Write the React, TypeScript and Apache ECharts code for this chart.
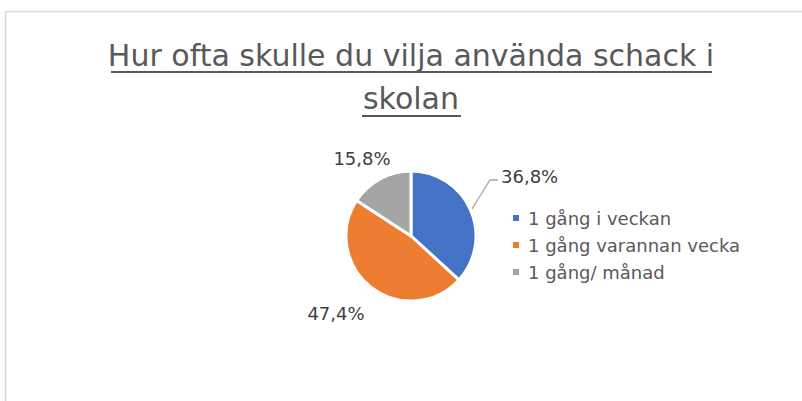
import React, { useEffect, useRef } from "react";
import * as echarts from "echarts";

const titleLines = ["Hur ofta skulle du vilja använda schack i", "skolan"];
const categories = ["1 gång i veckan", "1 gång varannan vecka", "1 gång/ månad"];
const values = [36.8, 47.4, 15.8];
const labelTexts = ["36,8%", "47,4%", "15,8%"];
const colors = ["#4472C4", "#ED7D31", "#A5A5A5"];

const FONT = "DejaVu Sans";

export default function App() {
  const ref = useRef<HTMLDivElement>(null);
  useEffect(() => {
    if (!ref.current) return;
    const chart = echarts.init(ref.current, undefined, { renderer: "svg" });
    const labelPos = [
      { x: 501, y: 176, align: "left" },
      { x: 336, y: 313, align: "center" },
      { x: 362, y: 158, align: "center" },
    ];
    chart.setOption({
      animation: false,
      backgroundColor: "#ffffff",
      title: {
        text: titleLines.join("\n"),
        left: 411,
        top: 34,
        textAlign: "center",
        padding: 0,
        textStyle: {
          fontFamily: FONT,
          fontSize: 30,
          fontWeight: "normal",
          color: "#595959",
          lineHeight: 43,
        },
      },
      legend: {
        orient: "vertical",
        left: 506,
        top: 203,
        itemWidth: 8,
        itemHeight: 8,
        itemGap: 7,
        icon: "rect",
        data: categories,
        textStyle: {
          fontFamily: FONT,
          fontSize: 18,
          color: "#595959",
          lineHeight: 20,
          padding: [0, 0, 0, 3],
        },
      },
      graphic: [
        {
          type: "rect",
          shape: { x: 5.5, y: 11.5, width: 1000, height: 1000 },
          style: { fill: "none", stroke: "#d9d9d9", lineWidth: 1.5 },
          silent: true,
        },
        {
          type: "line",
          shape: { x1: 111, y1: 72, x2: 712, y2: 72 },
          style: { stroke: "#595959", lineWidth: 2 },
          silent: true,
        },
        {
          type: "line",
          shape: { x1: 362, y1: 116, x2: 461, y2: 116 },
          style: { stroke: "#595959", lineWidth: 2 },
          silent: true,
        },
      ],
      series: [
        {
          type: "pie",
          center: [411, 236],
          radius: 65,
          startAngle: 90,
          clockwise: true,
          avoidLabelOverlap: false,
          itemStyle: { borderColor: "#ffffff", borderWidth: 3 },
          label: {
            show: true,
            position: "outside",
            fontFamily: FONT,
            fontSize: 18,
            color: "#404040",
            formatter: (p: any) => labelTexts[p.dataIndex],
          },
          labelLine: { show: true, lineStyle: { color: "#a6a6a6", width: 1.3 } },
          labelLayout: (p: any) => {
            const lp = labelPos[p.dataIndex];
            const out: any = { x: lp.x, y: lp.y, align: lp.align, verticalAlign: "middle" };
            if (p.dataIndex === 0) {
              out.labelLinePoints = [
                [472, 209],
                [490, 180],
                [498, 180],
              ];
            } else {
              out.labelLinePoints = [
                [0, 0],
                [0, 0],
                [0, 0],
              ];
            }
            return out;
          },
          data: categories.map((name, i) => ({
            name,
            value: values[i],
            itemStyle: { color: colors[i] },
            labelLine: { show: i === 0 },
          })),
        },
      ],
    });
    return () => chart.dispose();
  }, []);
  return (
    <div
      ref={ref}
      style={{ position: "fixed", left: 0, top: 0, width: 802, height: 401, background: "#fff" }}
    />
  );
}
